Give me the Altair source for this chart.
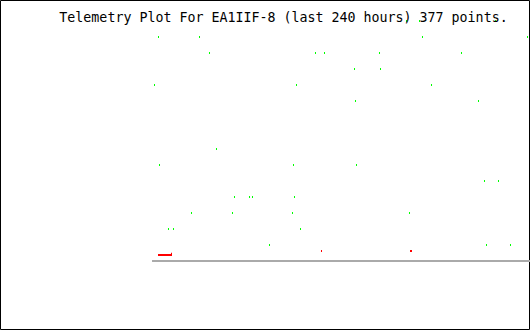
import altair as alt
import pandas as pd

# Green channel samples: hours since window start, level
green_hours = [162.13, 170.43, 218.94,
               3.83, 30.00, 172.34, 239.36,
               36.38, 104.04, 109.79, 144.89, 197.23,
               128.94, 145.53,
               1.28, 91.91, 178.09,
               129.57, 208.09,
               40.85,
               4.47, 90.00, 130.21,
               211.91, 220.85,
               52.34, 61.91, 63.83, 90.64,
               24.89, 51.06, 89.36, 164.04,
               10.21, 13.40, 94.47,
               74.68, 213.19, 228.51]
green_levels = [15, 15, 15,
                14, 14, 14, 14,
                13, 13, 13, 13, 13,
                12, 12,
                11, 11, 11,
                10, 10,
                7,
                6, 6, 6,
                5, 5,
                4, 4, 4, 4,
                3, 3, 3, 3,
                2, 2, 2,
                1, 1, 1]

red_line_hours = [3.51, 12.45]
red_line_levels = [0.375, 0.375]
red_dot_hours = [12.13, 107.87]
red_dot_levels = [0.45, 0.625]
red_block_hours = [165.0]
red_block_levels = [0.625]

zero_start = [-0.3]
zero_end = [241]
zero_level = [0]

title_text = "Telemetry Plot For EA1IIF-8 (last 240 hours) 377 points."

xs = alt.Scale(domain=[0, 240], range=[152.5, 528.5], zero=False, nice=False)
ys = alt.Scale(domain=[0, 15], range=[261, 21], zero=False, nice=False)

green_df = pd.DataFrame({"h": green_hours, "v": green_levels})
red_line_df = pd.DataFrame({"h": red_line_hours, "v": red_line_levels})
red_dot_df = pd.DataFrame({"h": red_dot_hours, "v": red_dot_levels})
red_block_df = pd.DataFrame({"h": red_block_hours, "v": red_block_levels})
zero_df = pd.DataFrame({"h": zero_start, "h2": zero_end, "v": zero_level})

zero_rule = alt.Chart(zero_df).mark_rule(color="#aaaaaa", strokeWidth=2).encode(
    x=alt.X("h:Q", scale=xs, axis=None),
    x2="h2:Q",
    y=alt.Y("v:Q", scale=ys, axis=None),
)

green = alt.Chart(green_df).mark_tick(
    orient="vertical", size=2, thickness=1, color="#00ff00", opacity=1
).encode(
    x=alt.X("h:Q", scale=xs, axis=None),
    y=alt.Y("v:Q", scale=ys, axis=None),
)

red_line = alt.Chart(red_line_df).mark_line(color="#ff0000", strokeWidth=2).encode(
    x=alt.X("h:Q", scale=xs, axis=None),
    y=alt.Y("v:Q", scale=ys, axis=None),
)

red_dots = alt.Chart(red_dot_df).mark_tick(
    orient="vertical", size=2, thickness=1, color="#ff0000", opacity=1
).encode(
    x=alt.X("h:Q", scale=xs, axis=None),
    y=alt.Y("v:Q", scale=ys, axis=None),
)

red_block = alt.Chart(red_block_df).mark_tick(
    orient="vertical", size=2, thickness=2, color="#ff0000", opacity=1
).encode(
    x=alt.X("h:Q", scale=xs, axis=None),
    y=alt.Y("v:Q", scale=ys, axis=None),
)

title = alt.Chart(pd.DataFrame({"t": [title_text]})).mark_text(
    font="DejaVu Sans Mono", fontSize=13.3, color="black", align="center",
    baseline="alphabetic"
).encode(
    text="t:N",
    x=alt.value(283.5),
    y=alt.value(22),
)

chart = alt.layer(zero_rule, green, red_line, red_dots, red_block, title).properties(
    width=529,
    height=329,
    padding={"left": 0, "top": 0, "right": 1, "bottom": 1},
    autosize=alt.AutoSizeParams(type="none"),
    background="white",
).configure_view(stroke="black", strokeWidth=1)

chart.save("out.html", embed_options={"renderer": "svg", "actions": False})
